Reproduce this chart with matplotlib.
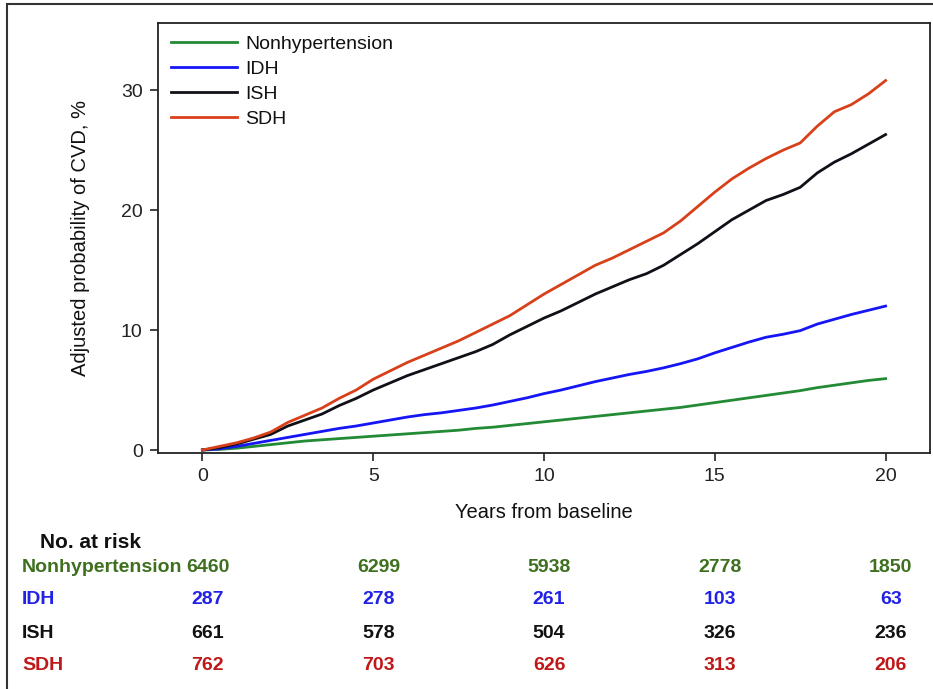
import matplotlib
matplotlib.use("Agg")
import matplotlib.pyplot as plt
import matplotlib.transforms as mtransforms
from matplotlib.patches import Rectangle

plt.rcParams['font.family'] = ['Liberation Sans', 'DejaVu Sans']

# years from baseline
years = [0, 0.5, 1, 1.5, 2, 2.5, 3, 3.5, 4, 4.5, 5, 5.5, 6, 6.5, 7, 7.5, 8, 8.5, 9, 9.5,
         10, 10.5, 11, 11.5, 12, 12.5, 13, 13.5, 14, 14.5, 15, 15.5, 16, 16.5, 17, 17.5,
         18, 18.5, 19, 19.5, 20]

# adjusted probability of CVD, %
nonhyp = [0, 0.05, 0.15, 0.3, 0.45, 0.6, 0.75, 0.85, 0.95, 1.05, 1.15, 1.25, 1.35, 1.45,
          1.55, 1.65, 1.8, 1.9, 2.05, 2.2, 2.35, 2.5, 2.65, 2.8, 2.95, 3.1, 3.25, 3.4, 3.55,
          3.75, 3.95, 4.15, 4.35, 4.55, 4.75, 4.95, 5.2, 5.4, 5.6, 5.8, 5.95]
idh = [0, 0.1, 0.3, 0.55, 0.8, 1.05, 1.3, 1.55, 1.8, 2.0, 2.25, 2.5, 2.75, 2.95, 3.1, 3.3,
       3.5, 3.75, 4.05, 4.35, 4.7, 5.0, 5.35, 5.7, 6.0, 6.3, 6.55, 6.85, 7.2, 7.6, 8.1, 8.55,
       9.0, 9.4, 9.65, 9.95, 10.5, 10.9, 11.3, 11.65, 12.0]
ish = [0, 0.2, 0.5, 0.9, 1.3, 2.0, 2.5, 3.0, 3.7, 4.3, 5.0, 5.6, 6.2, 6.7, 7.2, 7.7, 8.2,
       8.8, 9.6, 10.3, 11.0, 11.6, 12.3, 13.0, 13.6, 14.2, 14.7, 15.4, 16.3, 17.2, 18.2, 19.2,
       20.0, 20.8, 21.3, 21.9, 23.1, 24.0, 24.7, 25.5, 26.3]
sdh = [0, 0.3, 0.6, 1.0, 1.5, 2.3, 2.9, 3.5, 4.3, 5.0, 5.9, 6.6, 7.3, 7.9, 8.5, 9.1, 9.8,
       10.5, 11.2, 12.1, 13.0, 13.8, 14.6, 15.4, 16.0, 16.7, 17.4, 18.1, 19.1, 20.3, 21.5,
       22.6, 23.5, 24.3, 25.0, 25.6, 27.0, 28.2, 28.8, 29.7, 30.8]

groups = ["Nonhypertension", "IDH", "ISH", "SDH"]
line_colors = ["#238a35", "#1515f5", "#101018", "#d8401a"]
text_colors = ["#3e7020", "#2222e6", "#111111", "#c01818"]

risk_years = [0, 5, 10, 15, 20]
at_risk = {
    "Nonhypertension": [6460, 6299, 5938, 2778, 1850],
    "IDH": [287, 278, 261, 103, 63],
    "ISH": [661, 578, 504, 326, 236],
    "SDH": [762, 703, 626, 313, 206],
}

fig = plt.figure(figsize=(9.33, 6.89), dpi=100)
W, H = 933, 689
ax = fig.add_axes([158 / W, 1 - 453 / H, (930 - 158) / W, (453 - 23) / H])

for name, ys, c in zip(groups, [nonhyp, idh, ish, sdh], line_colors):
    ax.plot(years, ys, color=c, lw=2.0, label=name)

ax.set_xlim(-1.3, 21.3)
ax.set_ylim(-0.25, 35.6)
ax.set_xticks([0, 5, 10, 15, 20])
ax.set_yticks([0, 10, 20, 30])
ax.tick_params(direction="out", length=6, width=1.2, labelsize=14, colors="#222222", pad=5)
for s in ax.spines.values():
    s.set_linewidth(1.3)
    s.set_color("#222222")

ax.set_xlabel("Years from baseline", fontsize=14.5, labelpad=13, color="#111111")
ax.set_ylabel("Adjusted probability of CVD, %", fontsize=14.5, labelpad=22, color="#111111")

leg = ax.legend(loc="upper left", bbox_to_anchor=(0.0, 1.0), frameon=False, fontsize=14,
                handlelength=3.4, handletextpad=0.45, labelspacing=0.38, borderaxespad=0.3,
                borderpad=0.35)
for t in leg.get_texts():
    t.set_color("#111111")

# number at risk table
blend = mtransforms.blended_transform_factory(ax.transData, fig.transFigure)
fig.text(40 / W, 1 - 542 / H, "No. at risk", fontsize=15, fontweight="bold",
         va="center", ha="left", color="#111111")
row_y = [567, 600, 633, 665]
for name, c, yy in zip(groups, text_colors, row_y):
    fig.text(22 / W, 1 - yy / H, name, fontsize=14, fontweight="bold", color=c,
             va="center", ha="left")
    for t, n in zip(risk_years, at_risk[name]):
        ax.text(t + 0.15, 1 - yy / H, str(n), transform=blend, fontsize=14,
                fontweight="bold", color=c, va="center", ha="center")

# outer frame
fig.patches.append(Rectangle((7 / W, -0.02), 1.05, 1 - 4 / H + 0.02, transform=fig.transFigure,
                             fill=False, edgecolor="#333333", lw=1.5))

fig.savefig("out.png", dpi=100)
